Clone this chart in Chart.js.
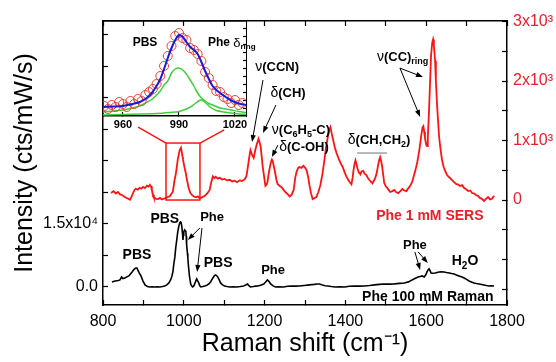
<!DOCTYPE html>
<html>
<head>
<meta charset="utf-8">
<script src="https://cdn.jsdelivr.net/npm/chart.js@4.4.1/dist/chart.umd.min.js"></script>
<style>
  html, body { margin: 0; padding: 0; background: #fff; }
  #wrap { position: relative; width: 556px; height: 362px; }
  #wrap canvas { position: absolute; left: 0; top: 0; }
</style>
</head>
<body>
<div id="wrap">
  <canvas id="main" width="556" height="362"></canvas>
  <canvas id="inset" width="556" height="362"></canvas>
</div>
<script>
// SERS spectrum, Phe 1 mM (right axis)
const sersShift = [820,826,832,837,842,848,854,860,867,871,874,878,881,886,891,895,899,904,909,913,916,919,921,924,926,931,936,941,946,951,956,961,965,969,973,977,980,983,985,988,990,993,995,997,998,1000,1002,1005,1007,1010,1012,1016,1020,1025,1030,1035,1039,1045,1052,1058,1064,1068,1072,1076,1079,1084,1089,1095,1101,1107,1114,1120,1126,1132,1138,1144,1151,1155,1158,1162,1165,1169,1173,1177,1180,1185,1188,1190,1193,1195,1199,1202,1205,1207,1211,1215,1218,1220,1223,1225,1229,1232,1237,1242,1247,1252,1257,1262,1267,1272,1276,1279,1283,1286,1291,1296,1300,1304,1308,1311,1315,1319,1323,1328,1333,1338,1343,1348,1352,1356,1360,1363,1366,1370,1374,1378,1383,1388,1393,1398,1402,1407,1411,1415,1418,1420,1423,1425,1428,1430,1433,1437,1440,1444,1448,1452,1455,1459,1463,1467,1470,1474,1478,1481,1484,1486,1489,1491,1494,1496,1500,1504,1507,1511,1516,1521,1526,1531,1536,1541,1546,1551,1556,1560,1565,1570,1574,1578,1581,1583,1586,1588,1591,1593,1595,1597,1600,1602,1604,1607,1610,1612,1615,1617,1619,1622,1624,1627,1630,1632,1635,1639,1643,1647,1651,1654,1659,1664,1669,1674,1679,1684,1689,1694,1699,1704,1709,1714,1719,1723,1728,1733,1738,1743,1748,1753,1758,1763,1768];
const sersIntensity = [117,150,110,135,95,80,50,30,5,60,110,170,190,175,205,190,220,200,240,225,255,230,165,90,45,20,15,35,10,25,35,55,60,100,140,330,430,570,680,780,840,880,810,720,680,610,540,450,370,270,200,120,85,60,45,60,30,45,70,110,170,300,400,370,390,360,375,345,355,330,340,310,325,300,330,320,350,400,530,720,840,760,710,840,920,1030,960,910,720,580,380,240,260,300,480,620,680,660,560,500,350,270,240,215,170,130,100,60,90,170,380,470,540,555,540,575,545,500,380,250,110,15,30,50,130,250,430,670,880,1040,1180,1225,1120,1000,880,790,700,620,560,470,400,340,300,265,380,500,620,670,590,530,470,430,480,490,440,420,380,340,310,280,320,370,470,590,680,720,640,560,400,290,230,200,170,135,150,170,130,115,150,185,160,150,200,235,300,420,520,640,760,840,990,1100,1220,1240,1150,1040,930,905,1050,1500,2050,2430,2650,2700,2600,2340,2000,1590,1270,1060,880,680,560,490,430,400,370,335,300,270,260,235,250,200,180,150,160,115,110,85,70,35,20,-15,20,50,10,20,70];

// normal Raman spectrum, Phe 100 mM (left axis)
const ramanShift = [822,830,838,842,846,849,854,859,864,868,872,877,881,884,886,890,894,899,904,910,916,922,928,934,941,947,953,958,963,967,970,973,975,978,980,983,985,988,990,992,993,995,997,998,999,1000,1002,1004,1005,1006,1007,1009,1010,1012,1014,1017,1020,1022,1025,1027,1030,1032,1034,1037,1040,1042,1047,1052,1057,1062,1067,1072,1076,1079,1082,1084,1088,1091,1096,1101,1107,1114,1122,1131,1140,1148,1153,1158,1161,1165,1172,1178,1183,1190,1198,1202,1207,1211,1215,1221,1227,1235,1247,1257,1267,1277,1286,1298,1311,1323,1330,1336,1343,1350,1356,1365,1375,1386,1398,1410,1422,1435,1447,1460,1472,1484,1496,1509,1521,1534,1546,1556,1565,1572,1580,1585,1590,1595,1599,1602,1605,1607,1610,1612,1617,1622,1627,1632,1638,1644,1650,1657,1663,1669,1675,1681,1687,1694,1700,1706,1712,1718,1724,1731,1737,1743,1749,1755,1761,1768];
const ramanIntensity = [1190,1400,1550,1670,2380,2000,2140,2400,2620,3100,3570,4200,4520,4500,4050,3300,2620,1400,480,120,0,60,0,50,0,120,240,500,950,1600,2380,3600,5240,7200,9290,11500,13100,14600,15240,15500,15480,14500,12500,11200,12300,13100,13570,13400,13330,12000,10000,8000,6900,4520,2600,710,150,0,300,710,1500,1900,1500,950,200,0,100,240,400,710,1300,2140,2700,2860,2600,2380,1600,950,500,240,100,0,50,0,100,240,450,710,300,0,100,200,240,400,710,1100,1670,1300,710,250,0,60,0,150,240,200,240,350,480,600,710,700,450,300,240,100,0,50,0,150,240,200,240,350,480,600,710,680,720,850,950,1200,1670,2000,2380,2500,2620,2380,2900,3570,4100,4290,3800,3330,3250,3330,3450,3570,3620,3570,3450,3330,3200,3100,2850,2620,2400,2140,1800,1430,1200,950,800,710,600,480,350,240,260,240];

// inset: experimental points and Lorentzian fit around the ring-breathing band
const circleShift = [950,952,954,956,958,960,962,964,966,968,970,972,974,976,978,980,982,984,986,988,990,992,994,996,998,1000,1002,1004,1006,1008,1010,1012,1014,1016,1018,1020,1022,1024];
const circleValues = [10,7,11,9,14,12,9,15,12,17,15,21,24,27,32,40,50,60,70,80,83,78,76,68,66,62,55,44,38,31,25,24,19,17,13,16,11,13];
const fitShift = [949.3,955,960,965,969,972,975,978,980,982,984,986,988,990,992,994,996,998,1000,1002,1004,1006,1008,1010,1012,1015,1018,1022,1025.9];
const fitTotal = [9,9.5,10,12,14,17,22,30,37,47,58,68,76,81,79,74,69,66,62,54,45,37,30,26,23,19,15.5,12.5,11];
const fitPbs = [4,5,6,8,10,13,16,21,25,31,35,43,47,48,46,42,36,30,23,18,15,12.5,11,9.5,8,7,6,4.5,3.5];
const pheShift = [949.3,960,970,978,985,990,994,997,999,1001,1002,1003,1005,1007,1010,1014,1018,1022,1025.9];
const fitPhe = [1,1.5,2,2.5,3.5,4.5,7,10,13,15.5,16,15,12,8.5,5.5,4,3,2,1.5];

// ticks and labels
const xTicks = [800,900,1000,1100,1200,1300,1400,1500,1600,1700,1800];
const xLabelValues = [800,1000,1200,1400,1600,1800];
const leftTicks = [0,7500,15000,22500,30000,37500,45000,52500,60000];
const leftLabelValues = [0,15000];
const leftLabelText = ['0.0','1.5x10⁴'];
const rightTicks = [-1500,-1000,-500,0,500,1000,1500,2000,2500,3000];
const rightLabelValues = [0,1000,2000,3000];
const rightLabelText = ['0','1x10³','2x10³','3x10³'];
const insetTicks = [960,990,1020];
const insetRightTicks = [8,16,24,32,40,48,56,64,72,80,88];

const FONT = 'Arial, "Liberation Sans", Helvetica, sans-serif';
const RED = '#ff1414';
const LABEL_RED = '#e8202a';

Chart.defaults.font.family = FONT;
Chart.defaults.color = '#000';

const setTicks = vals => s => { s.ticks = vals.map(v => ({ value: v })); };
const fixWidth = w => s => { s.width = w; };
const fixHeight = h => s => { s.height = h; };
const frame = { display: true, color: '#000', width: 1.5 };
const inward = len => ({ display: true, drawOnChartArea: false, drawTicks: true, tickLength: -len, tickColor: '#000', tickWidth: 1.2 });
const noTicks = { display: true, drawOnChartArea: false, drawTicks: false };

function drawRich(ctx, parts, x, y, size, color, align) {
  const fontOf = p => {
    if (p[1] === 's') return 'bold ' + Math.round(size * 0.68) + 'px ' + FONT;
    if (p[1] === 'g') return (size + 1) + 'px ' + FONT;
    return 'bold ' + size + 'px ' + FONT;
  };
  let total = 0;
  const widths = parts.map(p => { ctx.font = fontOf(p); const w = ctx.measureText(p[0]).width; total += w; return w; });
  let cx = align === 'center' ? x - total / 2 : x;
  ctx.fillStyle = color;
  ctx.textBaseline = 'middle';
  ctx.textAlign = 'left';
  parts.forEach((p, i) => {
    ctx.font = fontOf(p);
    ctx.fillText(p[0], cx, p[1] === 's' ? y + size * 0.35 : y);
    cx += widths[i];
  });
}

function arrow(ctx, x1, y1, x2, y2) {
  const a = Math.atan2(y2 - y1, x2 - x1), h = 7, w = 2.6;
  ctx.beginPath(); ctx.moveTo(x1, y1); ctx.lineTo(x2 - Math.cos(a) * h * 0.8, y2 - Math.sin(a) * h * 0.8); ctx.stroke();
  ctx.beginPath(); ctx.moveTo(x2, y2);
  ctx.lineTo(x2 - h * Math.cos(a) + w * Math.sin(a), y2 - h * Math.sin(a) - w * Math.cos(a));
  ctx.lineTo(x2 - h * Math.cos(a) - w * Math.sin(a), y2 - h * Math.sin(a) + w * Math.cos(a));
  ctx.closePath(); ctx.fill();
}

// peak assignments, placed in data coordinates of the axis they belong to
const labels = [
  { t: [['ν','g'],['(CCN)']], x: 1231, y: 2235, axis: 'y2', align: 'center' },
  { t: [['δ','g'],['(CH)']], x: 1258, y: 1798, axis: 'y2', align: 'center' },
  { t: [['ν','g'],['(C'],['6','s'],['H'],['5','s'],['-C)']], x: 1218, y: 1176, axis: 'y2' },
  { t: [['δ','g'],['(C-OH)']], x: 1236, y: 891, axis: 'y2' },
  { t: [['δ','g'],['(CH,CH'],['2','s'],[')']], x: 1406, y: 1008, axis: 'y2' },
  { t: [['ν','g'],['(CC)'],['ring','s']], x: 1478, y: 2403, axis: 'y2' },
  { t: [['Phe 1 mM SERS']], x: 1609, y: -269, axis: 'y2', align: 'center', color: LABEL_RED, size: 14 },
  { t: [['PBS']], x: 884, y: 7619, axis: 'y', align: 'center', size: 14 },
  { t: [['PBS']], x: 953, y: 16190, axis: 'y', align: 'center', size: 14 },
  { t: [['Phe']], x: 1070, y: 16429, axis: 'y', align: 'center' },
  { t: [['PBS']], x: 1085, y: 5714, axis: 'y', align: 'center', size: 14 },
  { t: [['Phe']], x: 1221, y: 4048, axis: 'y', align: 'center' },
  { t: [['Phe']], x: 1572, y: 10000, axis: 'y', align: 'center' },
  { t: [['H'],['2','s'],['O']], x: 1696, y: 6190, axis: 'y', align: 'center', size: 14 },
  { t: [['Phe 100 mM Raman']], x: 1604, y: -2381, axis: 'y', align: 'center', size: 14 }
];
const arrows = [
  [1196,2017,1169,975,'y2'], [1228,1597,1196,1126,'y2'], [1233,924,1218,723,'y2'],
  [1535,2218,1592,2067,'y2'], [1535,2218,1585,1395,'y2'],
  [1040,14048,1010,11190,'y'], [1045,14048,1033,3571,'y'],
  [1572,8333,1585,4048,'y'], [1580,8333,1604,5714,'y']
];

const annotate = {
  id: 'annotate',
  afterDatasetsDraw(chart) {
    const { ctx, scales } = chart;
    const X = v => scales.x.getPixelForValue(v);
    const Y = (v, ax) => scales[ax].getPixelForValue(v);
    ctx.save();
    // zoom box around the 1000 cm-1 band and its leaders to the inset
    ctx.strokeStyle = RED; ctx.lineWidth = 1.5;
    ctx.strokeRect(X(956), Y(958, 'y2'), X(1040) - X(956), Y(0, 'y2') - Y(958, 'y2'));
    ctx.beginPath();
    ctx.moveTo(X(956), Y(958, 'y2')); ctx.lineTo(X(887), Y(1227, 'y2'));
    ctx.moveTo(X(1040), Y(958, 'y2')); ctx.lineTo(X(1100), Y(1180, 'y2'));
    ctx.stroke();
    // bracket under delta(CH,CH2)
    ctx.strokeStyle = '#8a8a8a'; ctx.lineWidth = 1.2;
    ctx.beginPath(); ctx.moveTo(X(1429), Y(790, 'y2')); ctx.lineTo(X(1503), Y(790, 'y2')); ctx.stroke();
    ctx.strokeStyle = '#000'; ctx.fillStyle = '#000'; ctx.lineWidth = 1;
    arrows.forEach(a => arrow(ctx, X(a[0]), Y(a[1], a[4]), X(a[2]), Y(a[3], a[4])));
    labels.forEach(l => drawRich(ctx, l.t, X(l.x), Y(l.y, l.axis), l.size || 13, l.color || '#000', l.align));
    ctx.restore();
  }
};

new Chart(document.getElementById('main'), {
  type: 'line',
  data: {
    datasets: [
      { data: sersShift.map((x, i) => ({ x, y: sersIntensity[i] })), yAxisID: 'y2', borderColor: RED, borderWidth: 1.8, pointRadius: 0, tension: 0 },
      { data: ramanShift.map((x, i) => ({ x, y: ramanIntensity[i] })), yAxisID: 'y', borderColor: '#000', borderWidth: 1.6, pointRadius: 0, tension: 0 }
    ]
  },
  options: {
    responsive: false, animation: false, devicePixelRatio: 1, events: [],
    layout: { padding: { top: 21, left: 0, right: 0, bottom: 0 } },
    plugins: { legend: { display: false }, tooltip: { enabled: false } },
    scales: {
      x: {
        type: 'linear', position: 'bottom', min: 800, max: 1800,
        afterBuildTicks: setTicks(xTicks), afterFit: fixHeight(57),
        grid: inward(5), border: frame,
        ticks: { autoSkip: false, maxRotation: 0, padding: 12, font: { size: 16 }, callback: v => xLabelValues.includes(v) ? String(v) : '' },
        title: { display: true, text: 'Raman shift (cm⁻¹)', font: { size: 25 }, padding: { top: 0, bottom: 3 } }
      },
      xTop: {
        type: 'linear', position: 'top', min: 800, max: 1800,
        afterBuildTicks: setTicks(xTicks), afterFit: fixHeight(0),
        grid: inward(5), border: frame, ticks: { display: false }
      },
      y: {
        type: 'linear', position: 'left', min: -4300, max: 63300,
        afterBuildTicks: setTicks(leftTicks), afterFit: fixWidth(103),
        grid: inward(5), border: frame,
        ticks: { autoSkip: false, padding: 10, font: { size: 16 }, callback: v => { const k = leftLabelValues.indexOf(v); return k < 0 ? '' : leftLabelText[k]; } },
        title: { display: true, text: 'Intensity (cts/mW/s)', font: { size: 25 }, padding: { top: 10, bottom: 0 } }
      },
      y2: {
        type: 'linear', position: 'right', min: -1765, max: 3010,
        afterBuildTicks: setTicks(rightTicks), afterFit: fixWidth(49),
        grid: inward(5), border: frame,
        ticks: { autoSkip: false, padding: 11, color: LABEL_RED, font: { size: 16 }, callback: v => { const k = rightLabelValues.indexOf(v); return k < 0 ? '' : rightLabelText[k]; } }
      }
    }
  },
  plugins: [annotate]
});

const insetText = {
  id: 'insetText',
  afterDatasetsDraw(chart) {
    const { ctx, scales } = chart;
    ctx.save();
    drawRich(ctx, [['PBS']], scales.x.getPixelForValue(971.8), scales.y.getPixelForValue(73), 12, '#000', 'center');
    drawRich(ctx, [['Phe '], ['δ', 'g'], ['ring', 's']], scales.x.getPixelForValue(1005.5), scales.y.getPixelForValue(73), 12, '#000');
    ctx.restore();
  }
};

new Chart(document.getElementById('inset'), {
  type: 'line',
  data: {
    datasets: [
      { data: fitShift.map((x, i) => ({ x, y: fitTotal[i] })), borderColor: '#1a1ad8', borderWidth: 2, pointRadius: 0, tension: 0.3 },
      { data: circleShift.map((x, i) => ({ x, y: circleValues[i] })), showLine: false, pointRadius: 4.5, pointStyle: 'circle', pointBackgroundColor: 'rgba(0,0,0,0)', pointBorderColor: '#e0453a', pointBorderWidth: 1 },
      { data: fitShift.map((x, i) => ({ x, y: fitPbs[i] })), borderColor: '#3ccf3c', borderWidth: 1.5, pointRadius: 0, tension: 0.3 },
      { data: pheShift.map((x, i) => ({ x, y: fitPhe[i] })), borderColor: '#3ccf3c', borderWidth: 1.5, pointRadius: 0, tension: 0.3 }
    ]
  },
  options: {
    responsive: false, animation: false, devicePixelRatio: 1, events: [],
    layout: { padding: { top: 21, left: 0, right: 0, bottom: 0 } },
    plugins: { legend: { display: false }, tooltip: { enabled: false } },
    scales: {
      x: {
        type: 'linear', position: 'bottom', min: 949.3, max: 1025.9,
        afterBuildTicks: setTicks(insetTicks), afterFit: fixHeight(246),
        grid: inward(4), border: frame,
        ticks: { autoSkip: false, maxRotation: 0, padding: 6, font: { size: 11, weight: 'bold' }, callback: v => String(v) }
      },
      xTop: { type: 'linear', position: 'top', min: 949.3, max: 1025.9, afterFit: fixHeight(0), grid: noTicks, border: frame, ticks: { display: false } },
      y: { type: 'linear', position: 'left', min: 0, max: 95, afterFit: fixWidth(103), grid: noTicks, border: frame, ticks: { display: false } },
      y2: {
        type: 'linear', position: 'right', min: 0, max: 95,
        afterBuildTicks: setTicks(insetRightTicks), afterFit: fixWidth(310),
        grid: inward(3), border: { display: true, color: '#000', width: 1 }, ticks: { display: false }
      }
    }
  },
  plugins: [insetText]
});
</script>
</body>
</html>
